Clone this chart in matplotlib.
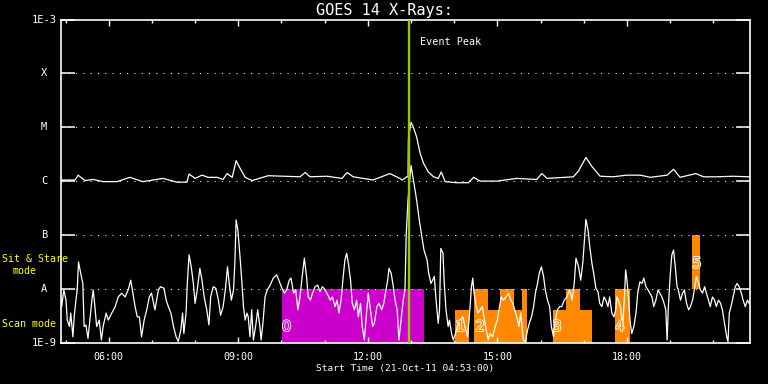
import numpy as np
import matplotlib
matplotlib.use("Agg")
import matplotlib.pyplot as plt
import matplotlib.patheffects as pe

plt.rcParams["font.family"] = ["DejaVu Sans Mono", "DejaVu Sans"]

# ---------------- data ----------------
# time in decimal hours (UT, 21-Oct-2011); flux as log10(W/m^2)
long_t = [4.88, 5.22, 5.29, 5.45, 5.64, 5.87, 6.19, 6.49, 6.79, 7.26, 7.58, 7.81, 7.86, 8.00,
          8.16, 8.30, 8.51, 8.65, 8.74, 8.86, 8.95, 9.04, 9.16, 9.32, 9.69, 10.43, 10.55,
          10.66, 11.06, 11.40, 11.52, 11.66, 12.12, 12.51, 12.74, 12.80, 12.90, 12.93, 12.94,
          13.00, 13.05, 13.13, 13.21, 13.29, 13.40, 13.52, 13.63, 13.70, 13.79, 14.06, 14.33,
          14.45, 14.60, 14.99, 15.45, 15.91, 16.03, 16.15, 16.76, 16.88, 17.05, 17.19, 17.38,
          17.68, 17.99, 18.31, 18.54, 18.93, 19.08, 19.23, 19.60, 19.77, 20.08, 20.46, 20.81, 20.85]
long_log = [-5.98, -5.98, -5.89, -5.99, -5.97, -6.01, -6.01, -5.93, -6.01, -5.95, -6.02, -6.02,
            -5.87, -5.95, -5.89, -5.93, -5.93, -5.97, -5.86, -5.93, -5.62, -5.76, -5.93, -5.99,
            -5.90, -5.92, -5.84, -5.92, -5.91, -5.95, -5.84, -5.92, -5.98, -5.86, -5.95, -5.98,
            -5.92, -5.92, -5.22, -4.91, -4.99, -5.18, -5.48, -5.67, -5.83, -5.92, -5.95, -5.83,
            -6.01, -6.03, -6.03, -5.93, -6.00, -6.00, -5.95, -5.97, -5.86, -5.95, -5.92, -5.81,
            -5.56, -5.73, -5.91, -5.92, -5.89, -5.89, -5.93, -5.89, -5.78, -5.93, -5.86, -5.92,
            -5.92, -5.91, -5.92, -5.92]

short_t = [4.88, 4.91, 4.96, 5.01, 5.04, 5.09, 5.12, 5.17, 5.20, 5.24, 5.27, 5.30, 5.35, 5.40,
           5.43, 5.47, 5.52, 5.57, 5.61, 5.64, 5.68, 5.72, 5.78, 5.83, 5.87, 5.94, 5.99, 6.07,
           6.15, 6.22, 6.30, 6.38, 6.45, 6.51, 6.56, 6.61, 6.66, 6.71, 6.76, 6.82, 6.88, 6.94,
           6.99, 7.07, 7.15, 7.20, 7.28, 7.33, 7.38, 7.44, 7.50, 7.56, 7.61, 7.67, 7.71, 7.74,
           7.79, 7.82, 7.86, 7.91, 7.96, 8.00, 8.05, 8.11, 8.16, 8.21, 8.27, 8.32, 8.36, 8.42,
           8.48, 8.54, 8.59, 8.65, 8.70, 8.75, 8.79, 8.84, 8.89, 8.92, 8.95, 8.99, 9.04, 9.08,
           9.12, 9.16, 9.20, 9.23, 9.27, 9.31, 9.35, 9.40, 9.45, 9.50, 9.53, 9.57, 9.62, 9.67,
           9.74, 9.81, 9.89, 9.94, 10.01, 10.07, 10.12, 10.18, 10.22, 10.28, 10.33, 10.38, 10.43,
           10.47, 10.53, 10.58, 10.62, 10.67, 10.72, 10.78, 10.84, 10.89, 10.95, 11.01, 11.07,
           11.13, 11.18, 11.24, 11.29, 11.33, 11.38, 11.43, 11.47, 11.51, 11.55, 11.60, 11.64,
           11.69, 11.74, 11.78, 11.83, 11.87, 11.92, 11.97, 12.01, 12.06, 12.11, 12.15, 12.21,
           12.26, 12.32, 12.37, 12.42, 12.46, 12.49, 12.54, 12.59, 12.63, 12.68, 12.72, 12.77,
           12.82, 12.86, 12.89, 12.93, 13.00, 13.13, 13.19, 13.25, 13.30, 13.37, 13.41, 13.46,
           13.50, 13.54, 13.58, 13.63, 13.66, 13.69, 13.74, 13.77, 13.81, 13.86, 13.89, 13.94,
           13.98, 14.03, 14.07, 14.14, 14.20, 14.25, 14.31, 14.35, 14.40, 14.43, 14.46, 14.51,
           14.55, 14.60, 14.65, 14.69, 14.74, 14.79, 14.83, 14.89, 14.95, 15.00, 15.05, 15.09,
           15.14, 15.20, 15.26, 15.31, 15.36, 15.40, 15.45, 15.50, 15.54, 15.57, 15.60, 15.65,
           15.70, 15.74, 15.79, 15.84, 15.88, 15.93, 15.97, 16.02, 16.07, 16.11, 16.16, 16.21,
           16.25, 16.30, 16.34, 16.39, 16.44, 16.49, 16.55, 16.61, 16.67, 16.73, 16.78, 16.82,
           16.88, 16.93, 16.98, 17.05, 17.10, 17.14, 17.19, 17.23, 17.28, 17.33, 17.37, 17.42,
           17.47, 17.51, 17.56, 17.60, 17.65, 17.70, 17.74, 17.77, 17.80, 17.85, 17.90, 17.94,
           17.97, 18.00, 18.04, 18.07, 18.11, 18.16, 18.21, 18.25, 18.30, 18.35, 18.39, 18.44,
           18.49, 18.53, 18.58, 18.62, 18.67, 18.72, 18.76, 18.81, 18.86, 18.90, 18.93, 18.96,
           19.00, 19.04, 19.08, 19.12, 19.16, 19.19, 19.24, 19.29, 19.33, 19.38, 19.43, 19.47,
           19.52, 19.56, 19.61, 19.66, 19.70, 19.75, 19.80, 19.84, 19.89, 19.93, 19.98, 20.03,
           20.07, 20.12, 20.17, 20.21, 20.26, 20.31, 20.34, 20.37, 20.41, 20.46, 20.51, 20.55,
           20.60, 20.65, 20.69, 20.74, 20.79, 20.83]
short_log = [-8.15, -8.33, -8.02, -8.21, -8.58, -8.70, -8.45, -8.89, -8.52, -8.21, -8.02, -7.50,
             -7.71, -7.90, -8.70, -8.67, -8.92, -8.52, -8.21, -8.02, -8.33, -8.70, -8.58, -8.95,
             -8.70, -8.45, -8.58, -8.45, -8.33, -8.15, -8.08, -8.15, -8.02, -7.84, -8.08, -8.33,
             -8.52, -8.52, -8.89, -8.58, -8.39, -8.15, -8.08, -8.39, -8.02, -7.96, -7.99, -8.21,
             -8.33, -8.45, -8.70, -8.89, -8.98, -8.76, -8.45, -8.83, -8.45, -7.90, -7.37, -7.59,
             -7.90, -8.27, -8.02, -7.62, -7.84, -8.15, -8.39, -8.67, -8.15, -7.96, -7.99, -8.21,
             -8.49, -8.33, -8.02, -7.59, -7.90, -8.21, -8.02, -7.53, -6.72, -6.91, -7.40, -7.84,
             -8.33, -8.58, -8.45, -8.52, -8.89, -8.39, -8.95, -8.70, -8.39, -8.70, -8.95, -8.64,
             -8.15, -8.02, -7.93, -7.80, -7.74, -7.84, -7.99, -8.08, -8.02, -7.84, -7.80, -8.08,
             -8.02, -8.39, -8.15, -7.84, -7.43, -7.77, -8.15, -8.21, -8.08, -7.96, -7.93, -8.05,
             -7.96, -8.02, -8.11, -8.21, -8.15, -8.33, -8.21, -8.45, -8.21, -7.77, -7.46, -7.34,
             -7.53, -7.84, -8.27, -8.39, -8.21, -8.52, -8.27, -8.70, -8.95, -8.45, -8.08, -8.39,
             -8.70, -8.64, -8.33, -8.27, -8.39, -8.27, -8.02, -7.84, -7.62, -7.71, -7.96, -8.21,
             -8.39, -8.95, -8.58, -8.21, -8.02, -6.97, -6.35, -5.71, -6.35, -6.72, -7.03, -7.28,
             -7.46, -7.71, -7.90, -7.84, -7.77, -8.21, -8.64, -8.39, -7.25, -7.34, -7.90, -8.39,
             -8.70, -8.58, -8.83, -8.95, -8.83, -8.70, -8.58, -8.52, -8.70, -8.89, -8.52, -7.96,
             -7.80, -8.08, -8.33, -8.45, -8.39, -8.33, -8.52, -8.76, -8.95, -8.83, -8.89, -8.70,
             -8.58, -8.33, -8.15, -8.21, -8.15, -8.08, -8.21, -8.27, -8.39, -8.52, -8.70, -8.45,
             -8.70, -8.95, -8.98, -8.76, -8.64, -8.52, -8.33, -8.08, -7.90, -7.71, -7.59, -7.77,
             -8.02, -8.21, -8.33, -8.70, -8.89, -8.58, -8.39, -8.33, -8.33, -8.21, -8.15, -8.02,
             -8.21, -7.90, -7.43, -7.59, -7.84, -7.50, -6.71, -6.91, -7.22, -7.53, -7.71, -7.99,
             -8.05, -8.27, -8.33, -8.15, -8.21, -8.33, -8.15, -8.45, -8.52, -8.39, -8.15, -8.21,
             -8.33, -8.70, -8.21, -7.65, -7.84, -8.21, -8.58, -8.83, -8.70, -8.45, -8.08, -7.87,
             -7.90, -7.80, -7.96, -8.02, -8.08, -8.15, -8.33, -8.21, -8.02, -8.08, -8.15, -8.27,
             -8.39, -8.95, -8.33, -7.77, -7.37, -7.28, -7.59, -7.96, -8.02, -8.21, -8.08, -8.02,
             -8.27, -8.39, -8.33, -8.21, -8.02, -7.77, -7.90, -8.02, -8.08, -7.96, -8.08, -8.21,
             -8.33, -8.15, -8.21, -8.33, -8.21, -8.27, -8.39, -8.64, -8.89, -8.98, -8.45, -8.33,
             -8.15, -7.96, -7.90, -7.96, -8.08, -8.21, -8.33, -8.21, -8.27]

# observing-mode blocks: start hour, end hour, bottom flux, top flux, colour key
block_start = [10.01, 14.02, 14.46, 14.78, 15.06, 15.39, 15.57, 16.29, 16.59, 16.91, 17.73, 19.51]
block_end = [13.30, 14.35, 14.78, 15.06, 15.39, 15.57, 15.69, 16.59, 16.91, 17.19, 18.06, 19.70]
block_bottom = [1e-9, 1e-9, 1e-9, 1e-9, 1e-9, 1e-9, 1e-9, 1e-9, 1e-9, 1e-9, 1e-9, 1e-8]
block_top = [1e-8, 4e-9, 1e-8, 4e-9, 1e-8, 4e-9, 1e-8, 4e-9, 1e-8, 4e-9, 1e-8, 1e-7]
block_kind = ["m", "o", "o", "o", "o", "o", "o", "o", "o", "o", "o", "o"]

block_labels = ["0", "1", "2", "3", "4", "5"]
label_t = [10.12, 14.14, 14.60, 16.38, 17.84, 19.62]
label_flux = [2.0e-9, 2.0e-9, 2.0e-9, 2.0e-9, 2.0e-9, 3.0e-8]
label_kind = ["m", "o", "o", "o", "o", "o"]

level_vals = [1e-9, 1e-8, 1e-7, 1e-6, 1e-5, 1e-4, 1e-3]
level_names = ["1E-9", "A", "B", "C", "M", "X", "1E-3"]
grid_levels = [1e-8, 1e-7, 1e-6, 1e-5, 1e-4]

major_hours = [6, 9, 12, 15, 18]
major_labels = ["06:00", "09:00", "12:00", "15:00", "18:00"]
minor_hours = list(range(5, 21))

t_start, t_end = 4.883, 20.85
peak_time = 12.96

# ---------------- plot ----------------
fig = plt.figure(figsize=(7.68, 3.84), dpi=100, facecolor="black")
ax = fig.add_axes([60.5 / 768, 41.3 / 384, 689.5 / 768, 323.2 / 384])
ax.set_facecolor("black")
ax.set_yscale("log")
ax.set_xlim(t_start, t_end)
ax.set_ylim(1e-9, 1e-3)

colors = {"m": "#cc00cc", "o": "#ff8800"}
for s, e, b, tp, k in zip(block_start, block_end, block_bottom, block_top, block_kind):
    ax.fill_between([s, e], [b, b], [tp, tp], color=colors[k], linewidth=0, zorder=1)

for lv in grid_levels:
    ax.axhline(lv, color="white", linewidth=0.75, dashes=(1, 6), zorder=1.5)

ax.plot(long_t, 10 ** np.array(long_log), color="white", linewidth=0.9, zorder=2)
ax.plot(short_t, 10 ** np.array(short_log), color="white", linewidth=0.9, zorder=2)

ax.axvline(peak_time, color="#99cc00", linewidth=1.7, zorder=3)
ax.annotate("Event Peak", xy=(peak_time, 1e-3), xycoords="data",
            xytext=(8, -16.5), textcoords="offset points", color="white",
            fontsize=7.3, va="center", ha="left")

for lab, t, f, k in zip(block_labels, label_t, label_flux, label_kind):
    ax.text(t, f, lab, color=colors[k], fontsize=10.5, ha="center", va="center", zorder=4,
            family="DejaVu Sans",
            path_effects=[pe.withStroke(linewidth=1.3, foreground="white")])

for sp in ax.spines.values():
    sp.set_color("white")
    sp.set_linewidth(1.2)

ax.set_yticks(level_vals)
ax.set_yticklabels([])
ax.yaxis.set_minor_locator(matplotlib.ticker.NullLocator())
ax.tick_params(axis="y", which="major", direction="in", length=10, width=1.1,
               color="white", left=True, right=True)
ytr = ax.get_yaxis_transform()
for v, n in zip(level_vals, level_names):
    ax.text(-0.024, v, n, transform=ytr, color="white", fontsize=7.5,
            ha="center", va="center")

ax.set_xticks(major_hours)
ax.set_xticklabels(major_labels, color="white", fontsize=7.2)
ax.set_xticks(minor_hours, minor=True)
ax.tick_params(axis="x", which="major", direction="in", length=4.5, width=1,
               color="white", top=True, bottom=True, pad=7)
ax.tick_params(axis="x", which="minor", direction="in", length=2.5, width=1,
               color="white", top=True, bottom=True)

fig.text(0.5, 1 - 10 / 384, "GOES 14 X-Rays:", color="white", fontsize=11,
         ha="center", va="center")
fig.text(405 / 768, 1 - 368 / 384, "Start Time (21-Oct-11 04:53:00)", color="white",
         fontsize=6.8, ha="center", va="center")
fig.text(2 / 768, 1 - 259 / 384, "Sit & Stare", color="yellow", fontsize=7.2,
         ha="left", va="center")
fig.text(24.5 / 768, 1 - 271 / 384, "mode", color="yellow", fontsize=7.2,
         ha="center", va="center")
fig.text(2 / 768, 1 - 324 / 384, "Scan mode", color="yellow", fontsize=7.2,
         ha="left", va="center")

fig.savefig("out.png", dpi=100, facecolor="black")
